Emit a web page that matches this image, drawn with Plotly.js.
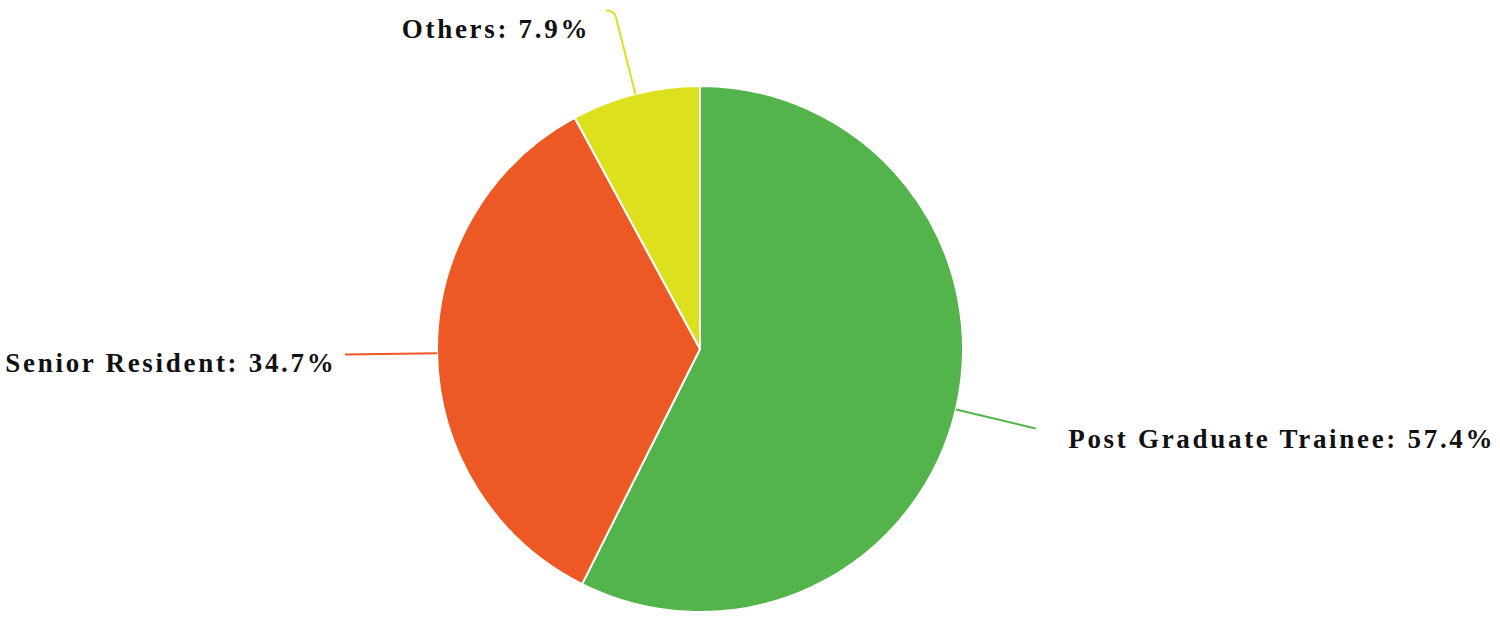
<!DOCTYPE html>
<html>
<head>
<meta charset="utf-8">
<script src="https://cdn.plot.ly/plotly-3.0.1.min.js"></script>
<style>
html,body{margin:0;padding:0;background:#fff;}
#chart{width:1500px;height:636px;}
#chart .annotation-text{letter-spacing:2.7px;}
</style>
</head>
<body>
<div id="chart"></div>
<script>
// ---- data ----
const labels = ["Post Graduate Trainee", "Senior Resident", "Others"];
const values = [57.4, 34.7, 7.9];
const colors = ["#52B44B", "#EC5924", "#DDE01C"];

// ---- layout constants ----
const W = 1500, H = 636;
const CX = 700, CY = 349, R = 263;
const FONT = {family: "Liberation Serif, Times New Roman, serif", size: 27, color: "#111"};

// leader line lengths and text-centre offsets (pixels, relative to line end)
const lineLen = [82, 92, 80];
const textCfg = [
  {dx: 246, dy: 11},
  {dx: -174, dy: 8},
  {dx: -120, dy: 12}
];

const total = values.reduce((a, b) => a + b, 0);
const px = x => x / W;
const py = y => 1 - y / H;

const shapes = [];
const annotations = [];
let cum = 0;
values.forEach((v, i) => {
  const mid = (cum + v / 2) / total * 2 * Math.PI; // clockwise from top
  cum += v;
  const sx = CX + R * Math.sin(mid), sy = CY - R * Math.cos(mid);
  const ex = CX + (R + lineLen[i]) * Math.sin(mid), ey = CY - (R + lineLen[i]) * Math.cos(mid);
  if (i === 2) {
    shapes.push({
      type: "path", xref: "paper", yref: "paper",
      path: `M ${px(sx)} ${py(sy)} L ${px(ex)} ${py(ey)} Q ${px(ex - 2)} ${py(ey - 6)} ${px(ex - 10)} ${py(ey - 6)}`,
      line: {color: colors[i], width: 2}
    });
  } else {
    shapes.push({
      type: "line", xref: "paper", yref: "paper",
      x0: px(sx), y0: py(sy), x1: px(ex), y1: py(ey),
      line: {color: colors[i], width: 2}
    });
  }
  annotations.push({
    xref: "paper", yref: "paper",
    x: px(ex + textCfg[i].dx), y: py(ey + textCfg[i].dy),
    xanchor: "center", yanchor: "middle",
    showarrow: false,
    text: "<b>" + labels[i] + ": " + v.toFixed(1) + "%</b>",
    font: FONT
  });
});

const trace = {
  type: "pie",
  labels: labels,
  values: values,
  sort: false,
  direction: "clockwise",
  rotation: 0,
  marker: {colors: colors, line: {color: "#ffffff", width: 2}},
  textinfo: "none",
  hoverinfo: "label+percent",
  domain: {x: [px(CX - R), px(CX + R)], y: [py(CY + R), py(CY - R)]}
};

const layout = {
  width: W, height: H,
  margin: {l: 0, r: 0, t: 0, b: 0},
  showlegend: false,
  paper_bgcolor: "#fff",
  shapes: shapes,
  annotations: annotations
};

Plotly.newPlot("chart", [trace], layout, {displayModeBar: false, staticPlot: true});
</script>
</body>
</html>
